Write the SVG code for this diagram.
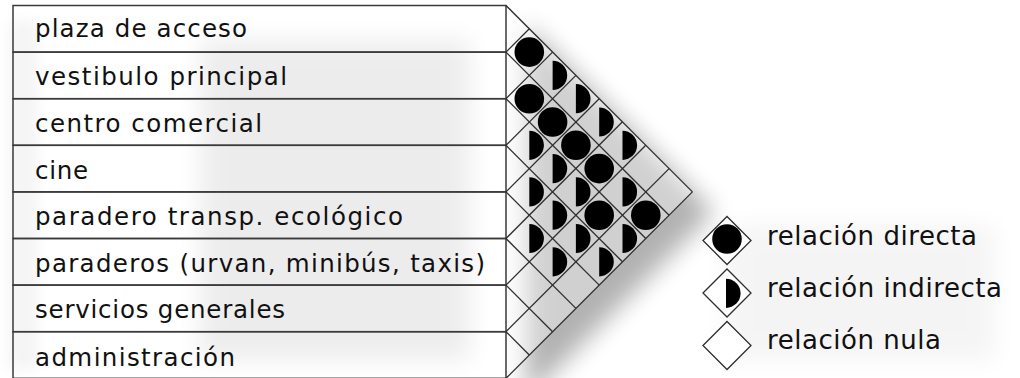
<svg xmlns="http://www.w3.org/2000/svg" xmlns:xlink="http://www.w3.org/1999/xlink" width="1020" height="378" viewBox="0 0 1020 378">
<defs>
<filter id="soft" x="-50%" y="-50%" width="200%" height="200%"><feGaussianBlur stdDeviation="12"/></filter>
<filter id="soft2" x="-50%" y="-50%" width="200%" height="200%"><feGaussianBlur stdDeviation="7"/></filter>
<circle id="full" cx="0" cy="0" r="14.8" fill="#000"/>
<path id="half" d="M0,-14.6 A14.6,14.6 0 0 1 0,14.6 Z" fill="#000"/>
</defs>
<style>
.row{fill:none;stroke:#3a3a3a;stroke-width:1.5}
.lbl{font-family:"DejaVu Sans",sans-serif;font-size:24.5px;fill:#111}
.leg{font-family:"DejaVu Sans",sans-serif;font-size:26px;fill:#111}
.grid line{stroke:#2e2e2e;stroke-width:1.3}
.dia{fill:#fff;stroke:#2e2e2e;stroke-width:1.3}
</style>
<rect width="1020" height="378" fill="#fff"/>
<!-- shadows -->
<g id="shadows">
<rect x="200" y="40" width="270" height="320" fill="#000" opacity="0.07" filter="url(#soft)"/>
<rect x="8" y="20" width="30" height="350" fill="#000" opacity="0.04" filter="url(#soft2)"/>
<polygon points="526,24 714,212 526,400" fill="#000" opacity="0.3" filter="url(#soft)"/>
<rect x="725" y="225" width="270" height="135" fill="#000" opacity="0.04" filter="url(#soft)"/>
</g>
<polygon points="506,5.5 692.4,191.9 506,378.3" fill="#fff" opacity="0.4"/>
<!-- rows -->
<g id="rows">
<g id="r0"><rect class="row" x="13" y="5.5" width="493" height="46.6"/><text class="lbl" x="35" y="37" textLength="212" lengthAdjust="spacing">plaza de acceso</text></g>
<g id="r1"><rect class="row" x="13" y="52.1" width="493" height="46.6"/><text class="lbl" x="35" y="84.5" textLength="252" lengthAdjust="spacing">vestibulo principal</text></g>
<g id="r2"><rect class="row" x="13" y="98.7" width="493" height="46.6"/><text class="lbl" x="35" y="131.5" textLength="227" lengthAdjust="spacing">centro comercial</text></g>
<g id="r3"><rect class="row" x="13" y="145.3" width="493" height="46.6"/><text class="lbl" x="35" y="178.5" textLength="53" lengthAdjust="spacing">cine</text></g>
<g id="r4"><rect class="row" x="13" y="191.9" width="493" height="46.6"/><text class="lbl" x="35" y="224.5" textLength="368" lengthAdjust="spacing">paradero transp. ecológico</text></g>
<g id="r5"><rect class="row" x="13" y="238.5" width="493" height="46.6"/><text class="lbl" x="35" y="271.5" textLength="450" lengthAdjust="spacing">paraderos (urvan, minibús, taxis)</text></g>
<g id="r6"><rect class="row" x="13" y="285.1" width="493" height="46.6"/><text class="lbl" x="35" y="317.5" textLength="250" lengthAdjust="spacing">servicios generales</text></g>
<g id="r7"><rect class="row" x="13" y="331.7" width="493" height="46.6"/><text class="lbl" x="35" y="366" textLength="200" lengthAdjust="spacing">administración</text></g>
</g>
<!-- matrix grid -->
<g id="connectors" class="grid">
<line x1="506" y1="5.5" x2="692.4" y2="191.9"/>
<line x1="506" y1="52.1" x2="669.1" y2="215.2"/>
<line x1="506" y1="98.7" x2="645.8" y2="238.5"/>
<line x1="506" y1="145.3" x2="622.5" y2="261.8"/>
<line x1="506" y1="191.9" x2="599.2" y2="285.1"/>
<line x1="506" y1="238.5" x2="575.9" y2="308.4"/>
<line x1="506" y1="285.1" x2="552.6" y2="331.7"/>
<line x1="506" y1="331.7" x2="529.3" y2="355"/>
<line x1="506" y1="52.1" x2="529.3" y2="28.8"/>
<line x1="506" y1="98.7" x2="552.6" y2="52.1"/>
<line x1="506" y1="145.3" x2="575.9" y2="75.4"/>
<line x1="506" y1="191.9" x2="599.2" y2="98.7"/>
<line x1="506" y1="238.5" x2="622.5" y2="121.8"/>
<line x1="506" y1="285.1" x2="645.8" y2="145.3"/>
<line x1="506" y1="331.7" x2="669.1" y2="168.6"/>
<line x1="506" y1="378.3" x2="692.4" y2="191.9"/>
</g>
<!-- relations -->
<g id="relations">
<use xlink:href="#full" transform="translate(529.3,52.1)"/>
<use xlink:href="#full" transform="translate(529.3,98.7)"/>
<use xlink:href="#full" transform="translate(552.6,122)"/>
<use xlink:href="#full" transform="translate(575.9,145.3)"/>
<use xlink:href="#full" transform="translate(599.2,168.6)"/>
<use xlink:href="#full" transform="translate(599.2,215.2)"/>
<use xlink:href="#full" transform="translate(645.8,215.2)"/>
<use xlink:href="#half" transform="translate(552.6,75.4)"/>
<use xlink:href="#half" transform="translate(575.9,98.7)"/>
<use xlink:href="#half" transform="translate(599.2,122)"/>
<use xlink:href="#half" transform="translate(622.5,145.3)"/>
<use xlink:href="#half" transform="translate(529.3,145.3)"/>
<use xlink:href="#half" transform="translate(552.6,168.6)"/>
<use xlink:href="#half" transform="translate(529.3,191.9)"/>
<use xlink:href="#half" transform="translate(575.9,191.9)"/>
<use xlink:href="#half" transform="translate(622.5,191.9)"/>
<use xlink:href="#half" transform="translate(552.6,215.2)"/>
<use xlink:href="#half" transform="translate(529.3,238.5)"/>
<use xlink:href="#half" transform="translate(575.9,238.5)"/>
<use xlink:href="#half" transform="translate(622.5,238.5)"/>
<use xlink:href="#half" transform="translate(552.6,261.8)"/>
<use xlink:href="#half" transform="translate(599.2,261.8)"/>
</g>
<!-- legend -->
<g id="legend">
<g id="leg-directa"><polygon class="dia" points="703,240.5 727,216.5 751,240.5 727,264.5"/><use xlink:href="#full" transform="translate(727,239)"/><text class="leg" x="767" y="245" textLength="210" lengthAdjust="spacing">relación directa</text></g>
<g id="leg-indirecta"><polygon class="dia" points="703,293 727,269 751,293 727,317"/><use xlink:href="#half" transform="translate(726,293.3)"/><text class="leg" x="767" y="297" textLength="235" lengthAdjust="spacing">relación indirecta</text></g>
<g id="leg-nula"><polygon class="dia" points="703,345.5 727,321.5 751,345.5 727,369.5"/><text class="leg" x="767" y="348.5" textLength="174" lengthAdjust="spacing">relación nula</text></g>
</g>
</svg>
